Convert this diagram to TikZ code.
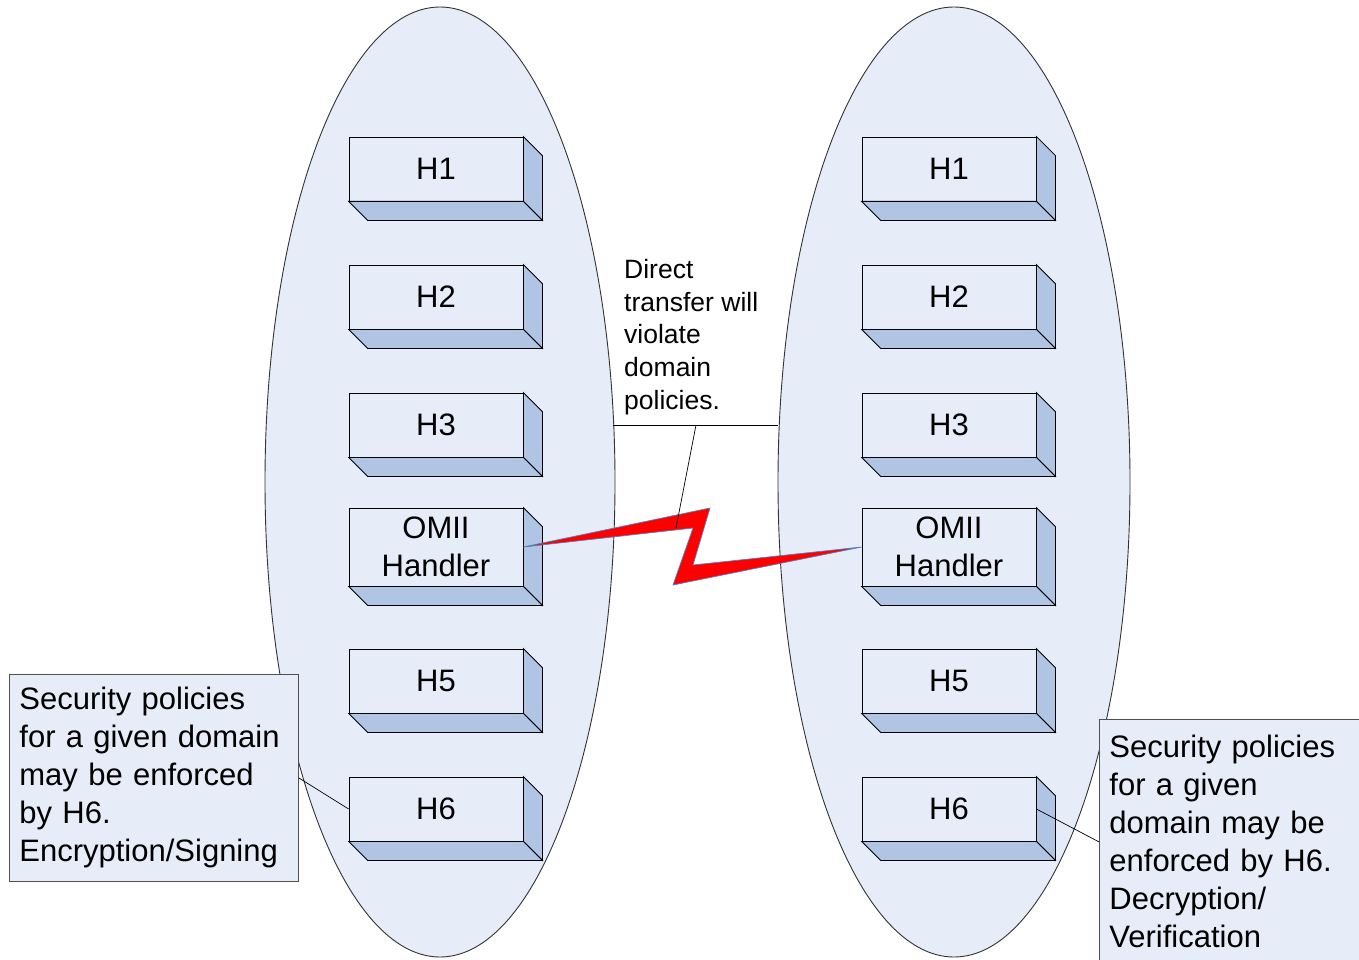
\documentclass[tikz,border=0pt]{standalone}
\usepackage{fontspec}
\setmainfont{Liberation Sans}
\definecolor{lightfill}{HTML}{E6EDF8}
\definecolor{sidefill}{HTML}{B0C4E4}
\definecolor{calloutgray}{HTML}{505050}
\definecolor{boltblue}{HTML}{4F81BD}
\newcommand\threed[1]{%
  \filldraw[sideface] (#1.north east) -- ++(19,19) -- ([shift={(19,19)}]#1.south east) -- (#1.south east) -- cycle;
  \filldraw[sideface] (#1.south west) -- (#1.south east) -- ++(19,19) -- ([shift={(19,19)}]#1.south west) -- cycle;}
\begin{document}
\begin{tikzpicture}[x=1pt,y=-1pt,
  frontface/.style={draw=black, line width=0.8pt, fill=lightfill},
  sideface/.style={draw=black, line width=0.8pt, fill=sidefill, line join=miter},
  hbox/.style={frontface, minimum width=174pt, minimum height=64pt, inner sep=0pt, font=\fontsize{31}{38}\selectfont, align=center},
  omii/.style={hbox, minimum height=78pt},
  domainfill/.style={draw=black!80, line width=0.9pt, fill=lightfill},
  callout/.style={draw=calloutgray, line width=0.8pt, fill=lightfill, anchor=north west, inner xsep=10pt, inner ysep=0pt, text width=269pt, align=left, font=\fontsize{31}{38}\selectfont},
  leader/.style={draw=black, line width=0.7pt},
  boltshape/.style={fill=red, draw=boltblue, line width=0.7pt, line join=miter}]
\useasboundingbox (0,0) rectangle (1359,960);
% domains
\draw[domainfill] (440,482) ellipse [x radius=175pt, y radius=475pt];
\draw[domainfill] (954,482) ellipse [x radius=176pt, y radius=475pt];
% handlers
\node[hbox] (H1L) at (436,169) {H1};
\node[hbox] (H2L) at (436,297) {H2};
\node[hbox] (H3L) at (436,425) {H3};
\node[omii] (OML) at (436,547) {OMII\\Handler};
\node[hbox] (H5L) at (436,681) {H5};
\node[hbox] (H6L) at (436,809) {H6};
\node[hbox] (H1R) at (949,169) {H1};
\node[hbox] (H2R) at (949,297) {H2};
\node[hbox] (H3R) at (949,425) {H3};
\node[omii] (OMR) at (949,547) {OMII\\Handler};
\node[hbox] (H5R) at (949,681) {H5};
\node[hbox] (H6R) at (949,809) {H6};
\foreach \n in {H1L,H2L,H3L,OML,H5L,H6L,H1R,H2R,H3R,OMR,H5R,H6R}{\threed{\n}}
% lightning
\coordinate (b1) at (710,508);
\coordinate (b2) at (693,565);
\coordinate (b3) at (673,585);
\coordinate (b4) at (693,528);
\filldraw[boltshape] (OML.east) -- (b1) -- (b2) -- (OMR.west) -- (b3) -- (b4) -- cycle;
% direct transfer callout
\node[anchor=north west, inner sep=0pt, align=left, font=\fontsize{26.5}{32.7}\selectfont] (dt) at (624,259) {Direct\\transfer will\\violate\\domain\\policies.};
\coordinate (dtl) at (613,425);
\coordinate (dtr) at (778,425);
\coordinate (dtp) at (696,425);
\coordinate (boltp) at (676,528);
\draw[leader] (dtl) -- (dtr);
\draw[leader] (dtp) -- (boltp);
% security callouts
\node[callout, minimum height=207pt] (lcall) at (9,674) {Security policies\\for a given domain\\may be enforced\\by H6.\\Encryption/Signing};
\node[callout, minimum height=245pt] (rcall) at (1099,719) {Security policies\\for a given\\domain may be\\enforced by H6.\\Decryption/\\Verification};
\draw[leader] (lcall.east) -- (H6L.west);
\draw[leader] (H6R.east) -- (rcall.west);
\end{tikzpicture}
\end{document}
